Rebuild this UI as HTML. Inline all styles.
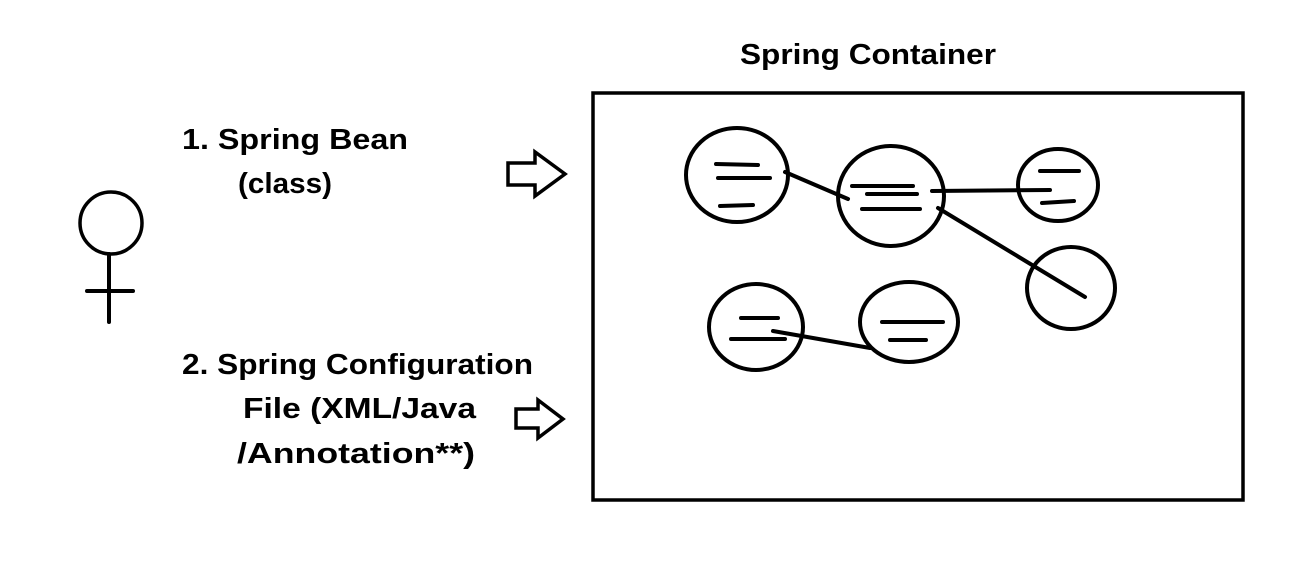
<!DOCTYPE html>
<html><head><meta charset="utf-8"><style>html,body{margin:0;padding:0;background:#fff;}svg{display:block}</style></head>
<body>
<svg width="1290" height="568" viewBox="0 0 1290 568" xmlns="http://www.w3.org/2000/svg">
<rect width="1290" height="568" fill="#fff"/>
<g font-family="'Liberation Sans', sans-serif" font-weight="bold" font-size="29" fill="#000">
<text x="740" y="64" textLength="256" lengthAdjust="spacingAndGlyphs">Spring Container</text>
<text x="182" y="149" textLength="226" lengthAdjust="spacingAndGlyphs">1.  Spring Bean</text>
<text x="238" y="193" textLength="94" lengthAdjust="spacingAndGlyphs">(class)</text>
<text x="182" y="374" textLength="351" lengthAdjust="spacingAndGlyphs">2. Spring Configuration</text>
<text x="243" y="418" textLength="233" lengthAdjust="spacingAndGlyphs">File (XML/Java</text>
<text x="237" y="463" textLength="238" lengthAdjust="spacingAndGlyphs">/Annotation**)</text>
</g>
<g fill="none" stroke="#000" stroke-width="4" stroke-linecap="round">
<rect x="593" y="93" width="650" height="407" stroke-width="3.5"/>
<circle cx="111" cy="223" r="31" stroke-width="3.5"/>
<line x1="109" y1="254" x2="109" y2="322"/>
<line x1="87" y1="291" x2="133" y2="291"/>
<polygon points="508,163 535,163 535,152 565,174 535,196 535,185 508,185" stroke-width="3.5" stroke-linejoin="miter"/>
<polygon points="516,409 538,409 538,400 563,419 538,438 538,428 516,428" stroke-width="3.5" stroke-linejoin="miter"/>
<ellipse cx="737" cy="175" rx="51" ry="47"/>
<ellipse cx="891" cy="196" rx="53" ry="50"/>
<ellipse cx="1058" cy="185" rx="40" ry="36"/>
<ellipse cx="1071" cy="288" rx="44" ry="41"/>
<ellipse cx="756" cy="327" rx="47" ry="43"/>
<ellipse cx="909" cy="322" rx="49" ry="40"/>
<line x1="716" y1="164" x2="758" y2="165"/>
<line x1="718" y1="178" x2="770" y2="178"/>
<line x1="720" y1="206" x2="753" y2="205"/>
<line x1="852" y1="186" x2="913" y2="186"/>
<line x1="867" y1="194" x2="917" y2="194"/>
<line x1="862" y1="209" x2="920" y2="209"/>
<line x1="1040" y1="171" x2="1079" y2="171"/>
<line x1="1042" y1="203" x2="1074" y2="201"/>
<line x1="741" y1="318" x2="778" y2="318"/>
<line x1="731" y1="339" x2="785" y2="339"/>
<line x1="882" y1="322" x2="943" y2="322"/>
<line x1="890" y1="340" x2="926" y2="340"/>
<line x1="785" y1="172" x2="848" y2="199"/>
<line x1="932" y1="191" x2="1050" y2="190"/>
<line x1="938" y1="208" x2="1085" y2="297"/>
<line x1="773" y1="331" x2="870" y2="348"/>
</g>
</svg>
</body></html>
